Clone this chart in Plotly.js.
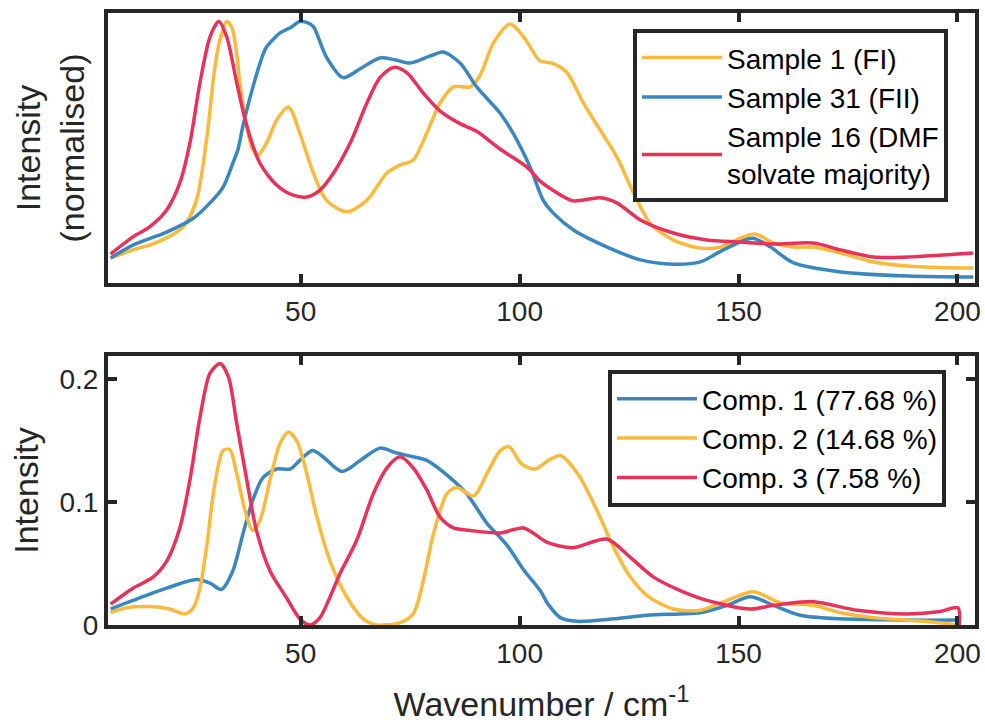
<!DOCTYPE html>
<html>
<head>
<meta charset="utf-8">
<script src="https://cdn.plot.ly/plotly-3.0.1.min.js"></script>
<style>html,body{margin:0;padding:0;background:#fff;}#chart{width:985px;height:728px;}</style>
</head>
<body>
<div id="chart"></div>
<script>
// ---- Top panel: normalised spectra ----
const s1Name = 'Sample 1 (FI)';
const s1X = [6.6, 11.7, 15.5, 19.4, 23.2, 26.2, 28.5, 30.4, 31.6, 33.1, 34.3, 35.5, 36.1, 37.7, 38.8, 40.2, 42.2, 44.5, 47.2, 49.8, 52.9, 55.9, 60.5, 65.1, 69.7, 72.7, 75.7, 78.8, 81.8, 84.9, 88.7, 91.0, 94.0, 97.8, 100.9, 103.9, 104.7, 107.7, 110.8, 114.6, 118.4, 122.2, 126.0, 129.8, 135.1, 141.3, 145.8, 150.4, 153.8, 158.0, 162.6, 167.1, 173.3, 180.8, 188.6, 196.0, 203.6];
const s1Y = [0.074, 0.106, 0.125, 0.153, 0.196, 0.30, 0.536, 0.82, 0.93, 1.0, 0.975, 0.86, 0.76, 0.59, 0.51, 0.477, 0.524, 0.614, 0.665, 0.563, 0.407, 0.30, 0.255, 0.30, 0.407, 0.438, 0.458, 0.563, 0.68, 0.744, 0.744, 0.79, 0.915, 0.99, 0.94, 0.86, 0.845, 0.835, 0.80, 0.68, 0.575, 0.47, 0.33, 0.21, 0.145, 0.113, 0.117, 0.152, 0.168, 0.133, 0.117, 0.117, 0.094, 0.059, 0.043, 0.037, 0.035];

const s31Name = 'Sample 31 (FII)';
const s31X = [6.6, 11.7, 19.4, 25.5, 29.3, 32.3, 34.5, 35.7, 36.8, 39.1, 41.4, 42.2, 45.3, 47.6, 49.8, 51.5, 52.9, 55.9, 59.7, 63.6, 68.1, 71.5, 75.0, 79.6, 82.6, 86.4, 90.2, 95.6, 98.5, 102.4, 105.4, 107.7, 112.3, 120.0, 127.6, 135.1, 141.3, 146.5, 153.2, 157.3, 162.6, 173.3, 188.6, 203.6];
const s31Y = [0.074, 0.125, 0.176, 0.23, 0.29, 0.352, 0.445, 0.50, 0.59, 0.744, 0.87, 0.90, 0.955, 0.975, 1.0, 0.995, 0.98, 0.86, 0.78, 0.815, 0.857, 0.85, 0.837, 0.865, 0.88, 0.837, 0.744, 0.64, 0.563, 0.43, 0.30, 0.25, 0.184, 0.117, 0.067, 0.05, 0.059, 0.106, 0.152, 0.117, 0.055, 0.02, 0.004, 0.0];

const s16Name = 'Sample 16 (DMF<br>solvate majority)';
const s16X = [6.6, 11.7, 15.5, 19.4, 22.4, 24.7, 27.0, 29.3, 31.3, 33.1, 35.4, 37.7, 40.7, 44.5, 48.3, 51.4, 54.4, 57.5, 61.3, 65.1, 68.1, 71.2, 74.2, 78.0, 81.8, 86.4, 90.2, 95.6, 101.7, 104.7, 108.5, 112.2, 118.4, 122.2, 127.6, 135.1, 142.8, 150.4, 158.0, 167.1, 173.3, 180.8, 188.6, 196.0, 203.6];
const s16Y = [0.09, 0.157, 0.196, 0.262, 0.368, 0.524, 0.76, 0.94, 1.0, 0.94, 0.76, 0.59, 0.445, 0.36, 0.32, 0.313, 0.34, 0.407, 0.524, 0.68, 0.78, 0.82, 0.80, 0.72, 0.65, 0.60, 0.57, 0.50, 0.43, 0.375, 0.33, 0.298, 0.31, 0.29, 0.223, 0.172, 0.145, 0.137, 0.129, 0.133, 0.106, 0.078, 0.078, 0.085, 0.094];

// ---- Bottom panel: components ----
const c1Name = 'Comp. 1 (77.68 %)';
const c1X = [6.6, 11.7, 19.4, 26.2, 29.3, 31.9, 34.5, 36.8, 39.1, 41.4, 44.5, 47.6, 49.8, 52.7, 55.1, 59.4, 63.6, 68.1, 71.9, 75.7, 78.8, 84.1, 87.9, 92.5, 97.1, 100.9, 104.7, 106.5, 109.3, 113.1, 121.5, 129.1, 136.7, 141.3, 147.4, 152.7, 158.0, 164.1, 173.3, 188.6, 200.0];
const c1Y = [0.013, 0.020, 0.030, 0.037, 0.034, 0.029, 0.044, 0.074, 0.102, 0.120, 0.127, 0.127, 0.134, 0.142, 0.137, 0.125, 0.134, 0.144, 0.140, 0.137, 0.134, 0.120, 0.107, 0.083, 0.065, 0.045, 0.028, 0.017, 0.006, 0.003, 0.005, 0.008, 0.009, 0.010, 0.016, 0.023, 0.016, 0.008, 0.005, 0.004, 0.004];

const c2Name = 'Comp. 2 (14.68 %)';
const c2X = [6.6, 10.2, 15.5, 20.1, 23.6, 25.5, 27.0, 28.5, 30.4, 32.3, 33.8, 35.4, 37.3, 39.0, 40.7, 43.0, 45.3, 47.2, 49.1, 51.4, 53.7, 56.7, 60.5, 64.3, 67.4, 72.7, 75.7, 78.0, 80.3, 83.4, 85.7, 89.5, 92.5, 95.6, 97.6, 100.5, 103.5, 106.6, 109.3, 113.5, 117.7, 121.5, 125.3, 129.1, 135.1, 141.3, 147.4, 153.4, 159.6, 167.1, 173.3, 180.8, 192.3, 200.0];
const c2Y = [0.010, 0.014, 0.015, 0.013, 0.009, 0.014, 0.030, 0.063, 0.115, 0.142, 0.143, 0.123, 0.093, 0.077, 0.085, 0.118, 0.148, 0.157, 0.150, 0.123, 0.088, 0.052, 0.023, 0.005, 0.0, 0.002, 0.009, 0.036, 0.074, 0.107, 0.112, 0.105, 0.123, 0.142, 0.145, 0.131, 0.127, 0.134, 0.138, 0.122, 0.093, 0.063, 0.039, 0.024, 0.013, 0.012, 0.020, 0.027, 0.018, 0.016, 0.010, 0.006, 0.003, 0.0];

const c3Name = 'Comp. 3 (7.58 %)';
const c3X = [6.6, 11.7, 16.3, 19.4, 22.4, 24.7, 27.0, 29.3, 31.6, 33.5, 35.4, 37.7, 39.9, 43.0, 46.8, 49.8, 52.1, 54.4, 59.0, 62.8, 66.6, 69.7, 72.7, 75.7, 78.8, 81.8, 84.9, 88.7, 95.6, 100.9, 106.5, 112.3, 119.9, 125.3, 130.6, 136.7, 142.8, 152.7, 158.0, 167.1, 177.1, 188.6, 196.1, 200.1, 200.4];
const c3Y = [0.017, 0.030, 0.039, 0.052, 0.079, 0.118, 0.169, 0.205, 0.213, 0.202, 0.164, 0.118, 0.077, 0.044, 0.022, 0.005, 0.0, 0.006, 0.042, 0.069, 0.107, 0.128, 0.137, 0.128, 0.110, 0.088, 0.079, 0.077, 0.075, 0.079, 0.067, 0.063, 0.070, 0.055, 0.039, 0.028, 0.020, 0.013, 0.016, 0.019, 0.012, 0.009, 0.011, 0.014, 0.0];

const xTicks = [50, 100, 150, 200];
const y2Ticks = [0, 0.1, 0.2];
const y2TickText = ['0', '0.1', '0.2'];

const YELLOW = '#FDB93C', BLUE = '#3A87C0', RED = '#E8325A', AX = '#262626';
const FONT = 'Liberation Sans, Arial, Helvetica, sans-serif';
const LW = 3.5;

function tr(x, y, name, color, xa, ya, leg) {
  return {x: x, y: y, name: name, type: 'scatter', mode: 'lines', xaxis: xa, yaxis: ya, legend: leg,
          line: {color: color, width: LW, shape: 'spline', smoothing: 0.8}, hoverinfo: 'skip'};
}

const data = [
  tr(s1X, s1Y, s1Name, YELLOW, 'x', 'y', 'legend'),
  tr(s31X, s31Y, s31Name, BLUE, 'x', 'y', 'legend'),
  tr(s16X, s16Y, s16Name, RED, 'x', 'y', 'legend'),
  tr(c1X, c1Y, c1Name, BLUE, 'x2', 'y2', 'legend2'),
  tr(c2X, c2Y, c2Name, YELLOW, 'x2', 'y2', 'legend2'),
  tr(c3X, c3Y, c3Name, RED, 'x2', 'y2', 'legend2')
];

const xCommon = {
  range: [6, 204], tickvals: xTicks, ticks: 'inside', ticklen: 9, tickwidth: 4, tickcolor: AX,
  showline: true, linewidth: 4, linecolor: AX, mirror: 'allticks', showgrid: false, zeroline: false,
  tickfont: {family: FONT, size: 28, color: AX}
};
const legCommon = {
  xanchor: 'left', yanchor: 'top', bgcolor: '#ffffff', bordercolor: AX, borderwidth: 4,
  itemwidth: 80,
  font: {family: FONT, size: 28, color: '#000000'}
};

const layout = {
  width: 985, height: 728,
  margin: {l: 108, r: 10, t: 13, b: 103},
  paper_bgcolor: '#ffffff', plot_bgcolor: '#ffffff',
  font: {family: FONT, color: AX},
  showlegend: true,
  xaxis: Object.assign({}, xCommon, {anchor: 'y', domain: [0, 1]}),
  yaxis: {
    anchor: 'x', domain: [0.5588, 1], range: [-0.0235, 1.033],
    showticklabels: false, ticks: '', showline: true, linewidth: 4, linecolor: AX, mirror: true,
    showgrid: false, zeroline: false,
    title: {text: 'Intensity<br>(normalised)', font: {family: FONT, size: 34, color: AX}, standoff: 10}
  },
  xaxis2: Object.assign({}, xCommon, {anchor: 'y2', domain: [0, 1],
    title: {text: 'Wavenumber / cm<sup>-1</sup>', font: {family: FONT, size: 34, color: AX}, standoff: 26}}),
  yaxis2: {
    anchor: 'x2', domain: [0, 0.4395], range: [0, 0.219],
    tickvals: y2Ticks, ticktext: y2TickText, ticks: 'inside', ticklen: 9, tickwidth: 4, tickcolor: AX,
    showline: true, linewidth: 4, linecolor: AX, mirror: 'allticks', showgrid: false, zeroline: false,
    tickfont: {family: FONT, size: 28, color: AX},
    title: {text: 'Intensity', font: {family: FONT, size: 34, color: AX}, standoff: 12}
  },
  legend: Object.assign({}, legCommon, {x: 0.6055, y: 0.974}),
  legend2: Object.assign({}, legCommon, {x: 0.5767, y: 0.4167})
};

Plotly.newPlot('chart', data, layout, {staticPlot: true, displayModeBar: false});
</script>
</body>
</html>
